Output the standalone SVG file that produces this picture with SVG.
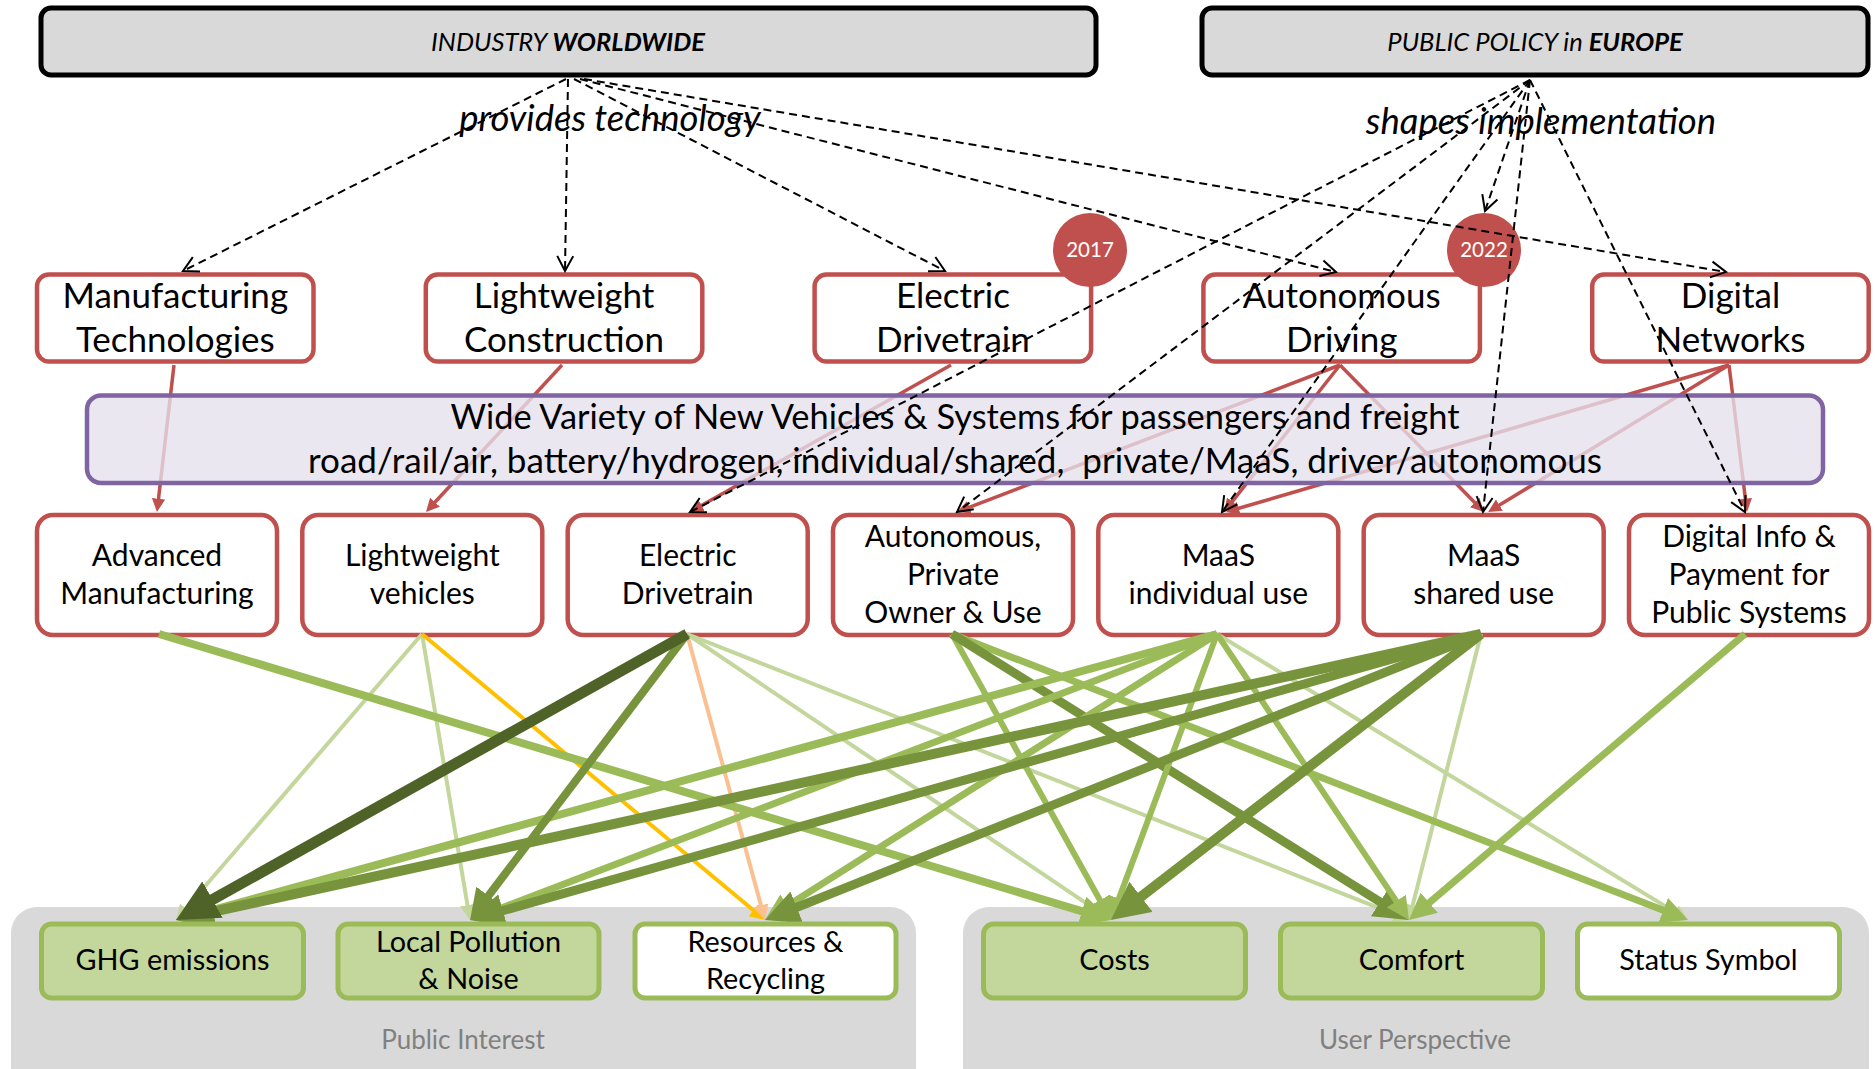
<svg xmlns="http://www.w3.org/2000/svg" width="1875" height="1069" viewBox="0 0 1875 1069">
<style>
.lbl{font-family:Lato,'Liberation Sans',sans-serif;fill:#000;text-anchor:middle}
.top{fill:#d9d9d9;stroke:#000;stroke-width:5}
.rb{fill:#fff;stroke:#c0504d;stroke-width:4.5}
.gbx{stroke:#9bbb59;stroke-width:5}
.gf{fill:#c3d69b}
.wf{fill:#fff}
.grp{fill:#d9d9d9}
.f1{font-size:35px}
.f2{font-size:30px}
.f3{font-size:28.8px}
.red{stroke:#c0504d;stroke-width:3.5;fill:none;marker-end:url(#ar)}
.dash{stroke:#000;stroke-width:2;stroke-dasharray:8 5;fill:none;marker-end:url(#av)}
.g1{stroke:#c3d69b;fill:none;marker-end:url(#ag1)}
.g2{stroke:#9bbb59;fill:none;marker-end:url(#ag2)}
.g3{stroke:#77933c;fill:none;marker-end:url(#ag3)}
.g4{stroke:#4f6228;fill:none;marker-end:url(#ag4)}
.go{stroke:#ffc000;fill:none;marker-end:url(#ao)}
.glo{stroke:#fac090;fill:none;marker-end:url(#alo)}
</style>
<defs>
<marker id="ar" viewBox="0 0 3.8 3.8" markerWidth="3.8" markerHeight="3.8" refX="0.5" refY="1.9" orient="auto"><path d="M0,0 L3.8,1.9 L0,3.8 Z" fill="#c0504d"/></marker>
<marker id="ag1" viewBox="0 0 3.8 3.8" markerWidth="3.8" markerHeight="3.8" refX="0.5" refY="1.9" orient="auto"><path d="M0,0 L3.8,1.9 L0,3.8 Z" fill="#c3d69b"/></marker>
<marker id="ag2" viewBox="0 0 3.8 3.8" markerWidth="3.8" markerHeight="3.8" refX="0.5" refY="1.9" orient="auto"><path d="M0,0 L3.8,1.9 L0,3.8 Z" fill="#9bbb59"/></marker>
<marker id="ag3" viewBox="0 0 3.8 3.8" markerWidth="3.8" markerHeight="3.8" refX="0.5" refY="1.9" orient="auto"><path d="M0,0 L3.8,1.9 L0,3.8 Z" fill="#77933c"/></marker>
<marker id="ag4" viewBox="0 0 3.8 3.8" markerWidth="3.8" markerHeight="3.8" refX="0.5" refY="1.9" orient="auto"><path d="M0,0 L3.8,1.9 L0,3.8 Z" fill="#4f6228"/></marker>
<marker id="ao" viewBox="0 0 3.8 3.8" markerWidth="3.8" markerHeight="3.8" refX="0.5" refY="1.9" orient="auto"><path d="M0,0 L3.8,1.9 L0,3.8 Z" fill="#ffc000"/></marker>
<marker id="alo" viewBox="0 0 3.8 3.8" markerWidth="3.8" markerHeight="3.8" refX="0.5" refY="1.9" orient="auto"><path d="M0,0 L3.8,1.9 L0,3.8 Z" fill="#fac090"/></marker>
<marker id="av" markerUnits="userSpaceOnUse" viewBox="-18 -10 20 20" markerWidth="20" markerHeight="20" refX="0" refY="0" orient="auto"><path d="M-15,-8 L0,0 L-15,8" fill="none" stroke="#000" stroke-width="2" stroke-dasharray="none"/></marker>
</defs>

<!-- group backgrounds -->
<g id="public-interest">
<rect class="grp" x="11" y="907" width="905" height="200" rx="26"/>
<text class="lbl" x="463" y="1049" font-size="26" style="fill:#808080">Public Interest</text>
</g>
<g id="user-perspective">
<rect class="grp" x="963" y="907" width="906" height="200" rx="26"/>
<text class="lbl" x="1415" y="1049" font-size="26" style="fill:#808080">User Perspective</text>
</g>

<!-- top nodes -->
<g id="industry-worldwide">
<rect class="top" x="41" y="8" width="1055" height="67" rx="10"/>
<text class="lbl" x="568" y="51" font-size="25.5" font-style="italic">INDUSTRY <tspan font-weight="bold">WORLDWIDE</tspan></text>
</g>
<g id="public-policy">
<rect class="top" x="1202" y="8" width="666" height="67" rx="10"/>
<text class="lbl" x="1535" y="51" font-size="25.5" font-style="italic">PUBLIC POLICY in <tspan font-weight="bold">EUROPE</tspan></text>
</g>

<!-- row 1 technology nodes -->
<g id="manufacturing-technologies">
<rect class="rb" x="37" y="274.5" width="276.5" height="87" rx="12"/>
<text class="lbl f1" x="175.3" y="308">Manufacturing</text>
<text class="lbl f1" x="175.3" y="352">Technologies</text>
</g>
<g id="lightweight-construction">
<rect class="rb" x="425.8" y="274.5" width="276.5" height="87" rx="12"/>
<text class="lbl f1" x="564" y="308">Lightweight</text>
<text class="lbl f1" x="564" y="352">Construction</text>
</g>
<g id="electric-drivetrain-tech">
<rect class="rb" x="814.6" y="274.5" width="276.5" height="87" rx="12"/>
<text class="lbl f1" x="952.9" y="308">Electric</text>
<text class="lbl f1" x="952.9" y="352">Drivetrain</text>
</g>
<g id="autonomous-driving">
<rect class="rb" x="1203.4" y="274.5" width="276.5" height="87" rx="12"/>
<text class="lbl f1" x="1341.7" y="308">Autonomous</text>
<text class="lbl f1" x="1341.7" y="352">Driving</text>
</g>
<g id="digital-networks">
<rect class="rb" x="1592.2" y="274.5" width="276.5" height="87" rx="12"/>
<text class="lbl f1" x="1730.5" y="308">Digital</text>
<text class="lbl f1" x="1730.5" y="352">Networks</text>
</g>
<g id="year-2017">
<circle cx="1090" cy="250" r="37" fill="#c0504d"/>
<text class="lbl" x="1090" y="257" font-size="20.5" style="fill:#fff">2017</text>
</g>
<g id="year-2022">
<circle cx="1484" cy="250" r="37" fill="#c0504d"/>
<text class="lbl" x="1484" y="257" font-size="20.5" style="fill:#fff">2022</text>
</g>

<!-- row 2 product nodes -->
<g id="advanced-manufacturing">
<rect class="rb" x="37" y="515" width="240" height="120" rx="16"/>
<text class="lbl f2" x="157" y="566">Advanced</text>
<text class="lbl f2" x="157" y="604">Manufacturing</text>
</g>
<g id="lightweight-vehicles">
<rect class="rb" x="302.3" y="515" width="240" height="120" rx="16"/>
<text class="lbl f2" x="422.3" y="566">Lightweight</text>
<text class="lbl f2" x="422.3" y="604">vehicles</text>
</g>
<g id="electric-drivetrain">
<rect class="rb" x="567.7" y="515" width="240" height="120" rx="16"/>
<text class="lbl f2" x="687.7" y="566">Electric</text>
<text class="lbl f2" x="687.7" y="604">Drivetrain</text>
</g>
<g id="autonomous-private">
<rect class="rb" x="833" y="515" width="240" height="120" rx="16"/>
<text class="lbl f2" x="953" y="547">Autonomous,</text>
<text class="lbl f2" x="953" y="585">Private</text>
<text class="lbl f2" x="953" y="623">Owner &amp; Use</text>
</g>
<g id="maas-individual">
<rect class="rb" x="1098.3" y="515" width="240" height="120" rx="16"/>
<text class="lbl f2" x="1218.3" y="566">MaaS</text>
<text class="lbl f2" x="1218.3" y="604">individual use</text>
</g>
<g id="maas-shared">
<rect class="rb" x="1363.7" y="515" width="240" height="120" rx="16"/>
<text class="lbl f2" x="1483.7" y="566">MaaS</text>
<text class="lbl f2" x="1483.7" y="604">shared use</text>
</g>
<g id="digital-info">
<rect class="rb" x="1629" y="515" width="240" height="120" rx="16"/>
<text class="lbl f2" x="1749" y="547">Digital Info &amp;</text>
<text class="lbl f2" x="1749" y="585">Payment for</text>
<text class="lbl f2" x="1749" y="623">Public Systems</text>
</g>

<!-- technology -> product connectors (red) and product -> impact connectors (green) -->
<g id="connectors">
<path class="red" d="M174,365 L158.3,500.5"/>
<path class="red" d="M562,365 L433.8,503.5"/>
<path class="red" d="M951,365 L700.1,506.3"/>
<path class="red" d="M1340,365 L967.8,507.9"/>
<path class="red" d="M1340,365 L1231.2,502.9"/>
<path class="red" d="M1340,365 L1475.9,503.7"/>
<path class="red" d="M1729,365 L1237.1,508.8"/>
<path class="red" d="M1729,365 L1497.9,506"/>
<path class="red" d="M1729,365 L1745.6,500.5"/>

<path class="g1" stroke-width="4" d="M422,634 L184.6,910"/>
<path class="g1" stroke-width="4" d="M422,634 L467.8,907"/>
<path class="go" stroke-width="4" d="M422,634 L754.9,911.5"/>
<path class="glo" stroke-width="4" d="M687,634 L761.5,907.3"/>
<path class="g1" stroke-width="4" d="M687,634 L1100.1,912.6"/>
<path class="g1" stroke-width="4" d="M687,634 L1396.7,915.1"/>
<path class="g1" stroke-width="4" d="M1217,634 L1676.7,913.1"/>
<path class="g1" stroke-width="4" d="M1481,634 L1412.2,907.2"/>
<path class="g2" stroke-width="8" d="M159,634 L1085.7,912.4"/>
<path class="g2" stroke-width="6" d="M952,634 L1101.4,902.7"/>
<path class="g2" stroke-width="7" d="M952,634 L1666.5,911.6"/>
<path class="g3" stroke-width="9" d="M952,634 L1383.8,904.2"/>
<path class="g2" stroke-width="8" d="M1217,634 L201.5,913"/>
<path class="g2" stroke-width="7" d="M1217,634 L491.6,911.7"/>
<path class="g2" stroke-width="7" d="M1217,634 L784.5,907.6"/>
<path class="g2" stroke-width="6" d="M1217,634 L1117.9,901.4"/>
<path class="g2" stroke-width="6" d="M1217,634 L1398,903.6"/>
<path class="g2" stroke-width="7" d="M1745,634 L1426.6,905"/>
<path class="g3" stroke-width="10" d="M1481,634 L208.2,912.9"/>
<path class="g3" stroke-width="9" d="M1481,634 L498.6,911.9"/>
<path class="g3" stroke-width="9" d="M1481,634 L792.6,909"/>
<path class="g3" stroke-width="10" d="M1481,634 L1137.1,899.8"/>
<path class="g3" stroke-width="8" d="M687,634 L486,899"/>
<path class="g4" stroke-width="11" d="M687,634 L207.7,902.3"/>
</g>

<!-- wide variety node (semi-transparent over the red connectors) -->
<g id="wide-variety">
<rect x="87" y="395.5" width="1736" height="87.5" rx="14" fill="#e5e0ec" fill-opacity="0.78" stroke="#8064a2" stroke-width="4.5"/>
<text class="lbl" x="955" y="429" font-size="34" textLength="1009" lengthAdjust="spacingAndGlyphs">Wide Variety of New Vehicles &amp; Systems for passengers and freight</text>
<text class="lbl" x="955" y="473" font-size="34" textLength="1294" lengthAdjust="spacingAndGlyphs" xml:space="preserve">road/rail/air, battery/hydrogen, individual/shared,  private/MaaS, driver/autonomous</text>
</g>

<!-- impact nodes -->
<g id="ghg-emissions">
<rect class="gf gbx" x="41.5" y="924" width="262" height="74" rx="10"/>
<text class="lbl f3" x="172.5" y="970">GHG emissions</text>
</g>
<g id="local-pollution">
<rect class="gf gbx" x="338" y="924" width="261" height="74" rx="10"/>
<text class="lbl f3" x="468.5" y="952">Local Pollution</text>
<text class="lbl f3" x="468.5" y="989">&amp; Noise</text>
</g>
<g id="resources-recycling">
<rect class="wf gbx" x="635" y="924" width="261" height="74" rx="10"/>
<text class="lbl f3" x="765.5" y="952">Resources &amp;</text>
<text class="lbl f3" x="765.5" y="989">Recycling</text>
</g>
<g id="costs">
<rect class="gf gbx" x="983.5" y="924" width="262" height="74" rx="10"/>
<text class="lbl f3" x="1114.5" y="970">Costs</text>
</g>
<g id="comfort">
<rect class="gf gbx" x="1280.5" y="924" width="262" height="74" rx="10"/>
<text class="lbl f3" x="1411.5" y="970">Comfort</text>
</g>
<g id="status-symbol">
<rect class="wf gbx" x="1577.5" y="924" width="262" height="74" rx="10"/>
<text class="lbl f3" x="1708.5" y="970">Status Symbol</text>
</g>

<!-- influence connectors (dashed) -->
<g id="connectors-influence">
<path class="dash" d="M566,79 L183,271"/>
<path class="dash" d="M568,79 L565,271"/>
<path class="dash" d="M574,79 L945,271"/>
<path class="dash" d="M580,79 L1336,272"/>
<path class="dash" d="M584,79 L1726,272"/>
<path class="dash" d="M1530,80 L690,512"/>
<path class="dash" d="M1530,80 L957,512"/>
<path class="dash" d="M1530,80 L1222,512"/>
<path class="dash" d="M1530,80 L1485,211"/>
<path class="dash" d="M1530,80 L1483,512"/>
<path class="dash" d="M1530,80 L1745,512"/>
<text class="lbl" x="610" y="131" font-size="36.5" font-style="italic">provides technology</text>
<text class="lbl" x="1541" y="134" font-size="36.5" font-style="italic">shapes implementation</text>
</g>
</svg>
